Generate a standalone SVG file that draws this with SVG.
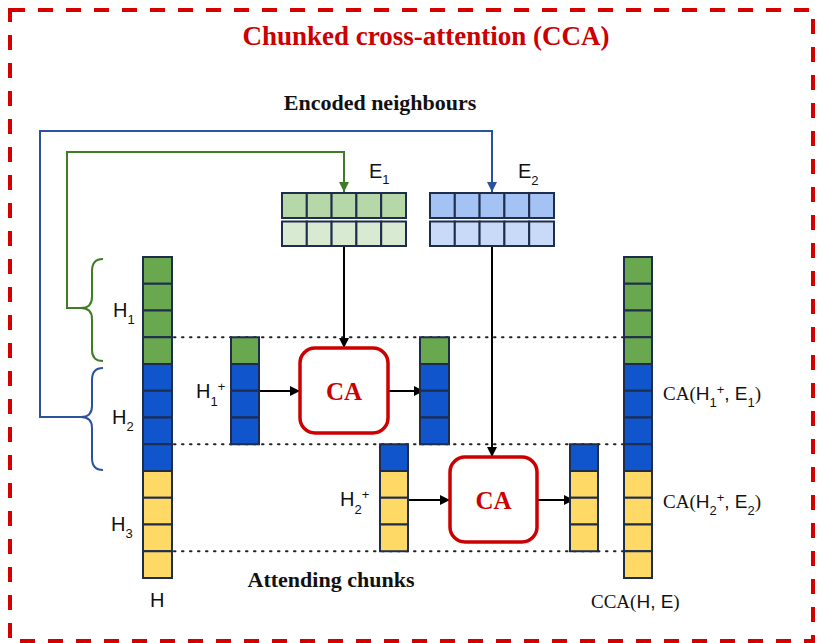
<svg xmlns="http://www.w3.org/2000/svg" width="821" height="643" viewBox="0 0 821 643">
<defs>
<style>
.cell{stroke:#1e2d4c;stroke-width:2}
.g{fill:#6aa84f}.b{fill:#1155cc}.y{fill:#ffd966}
.eg1{fill:#b6d7a8}.eg2{fill:#d9ead3}.eb1{fill:#a4c2f4}.eb2{fill:#c9daf8}
.dot{stroke:#222;stroke-width:2;stroke-dasharray:1.5 6.5;stroke-linecap:round;fill:none}
.ca{fill:#fff;stroke:#cc0000;stroke-width:3.5}
.cat{font-family:"Liberation Serif",serif;font-weight:bold;font-size:25px;fill:#cc0000;text-anchor:middle}
.lab{font-family:"Liberation Sans",Arial,sans-serif;font-size:19px;fill:#111}
.big{font-size:20px}
.ser{font-family:"Liberation Serif",serif}
.sm{font-size:13px}
.head{font-family:"Liberation Serif",serif;font-weight:bold;font-size:22px;fill:#111}
.arr{stroke:#000;stroke-width:2;fill:none}
</style>
<marker id="ah" viewBox="0 0 10 10" refX="10" refY="5" markerWidth="12" markerHeight="10" markerUnits="userSpaceOnUse" orient="auto"><path d="M0,0 L10,5 L0,10 z" fill="#000"/></marker>
<marker id="ahg" viewBox="0 0 10 10" refX="10" refY="5" markerWidth="12" markerHeight="10" markerUnits="userSpaceOnUse" orient="auto"><path d="M0,0 L10,5 L0,10 z" fill="#3f7d24"/></marker>
<marker id="ahb" viewBox="0 0 10 10" refX="10" refY="5" markerWidth="12" markerHeight="10" markerUnits="userSpaceOnUse" orient="auto"><path d="M0,0 L10,5 L0,10 z" fill="#2b529c"/></marker>
</defs>
<rect width="821" height="643" fill="#fff"/>
<rect id="frame" x="10" y="10" width="803" height="631" fill="none" stroke="#d40000" stroke-width="4" stroke-dasharray="15 13"/>
<text x="426" y="45" text-anchor="middle" font-family="Liberation Serif,serif" font-weight="bold" font-size="27" fill="#cc0000">Chunked cross-attention (CCA)</text>
<text class="head" x="380" y="110" text-anchor="middle">Encoded neighbours</text>
<text class="head" x="331" y="587" text-anchor="middle">Attending chunks</text>

<g id="dotted">
<line class="dot" x1="174" y1="337.25" x2="624" y2="337.25"/>
<line class="dot" x1="174" y1="444.25" x2="624" y2="444.25"/>
<line class="dot" x1="174" y1="551.25" x2="624" y2="551.25"/>
</g>

<g id="connectors">
<path d="M103,259 Q92,259 92,271 L92,297 Q92,308 81,308 Q92,308 92,319 L92,350 Q92,361 103,361" fill="none" stroke="#3f7d24" stroke-width="2"/>
<path d="M103,368 Q92,368 92,380 L92,406 Q92,417 81,417 Q92,417 92,428 L92,458 Q92,470 103,470" fill="none" stroke="#2b529c" stroke-width="2"/>
<path d="M81,308 L67,308 L67,152 L344,152 L344,192" fill="none" stroke="#3f7d24" stroke-width="2" marker-end="url(#ahg)"/>
<path d="M81,417 L40,417 L40,131 L492,131 L492,192" fill="none" stroke="#2b529c" stroke-width="2" marker-end="url(#ahb)"/>
<line class="arr" x1="344" y1="246" x2="344" y2="348" marker-end="url(#ah)"/>
<line class="arr" x1="492" y1="246" x2="492" y2="457" marker-end="url(#ah)"/>
<line class="arr" x1="259" y1="391" x2="300" y2="391" marker-end="url(#ah)"/>
<line class="arr" x1="388" y1="391" x2="424" y2="391" marker-end="url(#ah)"/>
<line class="arr" x1="408" y1="500" x2="450" y2="500" marker-end="url(#ah)"/>
<line class="arr" x1="537" y1="500" x2="574" y2="500" marker-end="url(#ah)"/>
</g>

<g id="E1">
<rect class="cell eg1" x="282" y="193" width="24.8" height="25"/>
<rect class="cell eg1" x="306.8" y="193" width="24.8" height="25"/>
<rect class="cell eg1" x="331.6" y="193" width="24.8" height="25"/>
<rect class="cell eg1" x="356.4" y="193" width="24.8" height="25"/>
<rect class="cell eg1" x="381.2" y="193" width="24.8" height="25"/>
<rect class="cell eg2" x="282" y="221.5" width="24.8" height="24.5"/>
<rect class="cell eg2" x="306.8" y="221.5" width="24.8" height="24.5"/>
<rect class="cell eg2" x="331.6" y="221.5" width="24.8" height="24.5"/>
<rect class="cell eg2" x="356.4" y="221.5" width="24.8" height="24.5"/>
<rect class="cell eg2" x="381.2" y="221.5" width="24.8" height="24.5"/>
<text class="lab big" x="369" y="178">E<tspan class="sm" dy="6">1</tspan></text>
</g>

<g id="E2">
<rect class="cell eb1" x="430" y="193" width="24.8" height="25"/>
<rect class="cell eb1" x="454.8" y="193" width="24.8" height="25"/>
<rect class="cell eb1" x="479.6" y="193" width="24.8" height="25"/>
<rect class="cell eb1" x="504.4" y="193" width="24.8" height="25"/>
<rect class="cell eb1" x="529.2" y="193" width="24.8" height="25"/>
<rect class="cell eb2" x="430" y="221.5" width="24.8" height="24.5"/>
<rect class="cell eb2" x="454.8" y="221.5" width="24.8" height="24.5"/>
<rect class="cell eb2" x="479.6" y="221.5" width="24.8" height="24.5"/>
<rect class="cell eb2" x="504.4" y="221.5" width="24.8" height="24.5"/>
<rect class="cell eb2" x="529.2" y="221.5" width="24.8" height="24.5"/>
<text class="lab big" x="518" y="178">E<tspan class="sm" dy="7">2</tspan></text>
</g>

<g id="H">
<rect class="cell g" x="143" y="257" width="29" height="26.75"/>
<rect class="cell g" x="143" y="283.75" width="29" height="26.75"/>
<rect class="cell g" x="143" y="310.5" width="29" height="26.75"/>
<rect class="cell g" x="143" y="337.25" width="29" height="26.75"/>
<rect class="cell b" x="143" y="364" width="29" height="26.75"/>
<rect class="cell b" x="143" y="390.75" width="29" height="26.75"/>
<rect class="cell b" x="143" y="417.5" width="29" height="26.75"/>
<rect class="cell b" x="143" y="444.25" width="29" height="26.75"/>
<rect class="cell y" x="143" y="471" width="29" height="26.75"/>
<rect class="cell y" x="143" y="497.75" width="29" height="26.75"/>
<rect class="cell y" x="143" y="524.5" width="29" height="26.75"/>
<rect class="cell y" x="143" y="551.25" width="29" height="26.75"/>
<text class="lab big" x="113" y="317">H<tspan class="sm" dy="7">1</tspan></text>
<text class="lab big" x="112" y="424">H<tspan class="sm" dy="7">2</tspan></text>
<text class="lab big" x="111" y="531">H<tspan class="sm" dy="7">3</tspan></text>
<text class="lab big" x="150" y="607">H</text>
</g>

<g id="H1plus">
<rect class="cell g" x="231" y="337.25" width="28" height="26.75"/>
<rect class="cell b" x="231" y="364" width="28" height="26.75"/>
<rect class="cell b" x="231" y="390.75" width="28" height="26.75"/>
<rect class="cell b" x="231" y="417.5" width="28" height="26.75"/>
<text class="lab big" x="196" y="398">H<tspan class="sm" dy="8">1</tspan><tspan class="sm" dy="-15">+</tspan></text>
</g>

<g id="CA1">
<rect class="ca" x="300" y="348" width="88" height="85" rx="15"/>
<text class="cat" x="344" y="400">CA</text>
</g>

<g id="out1">
<rect class="cell g" x="420" y="337.25" width="29" height="26.75"/>
<rect class="cell b" x="420" y="364" width="29" height="26.75"/>
<rect class="cell b" x="420" y="390.75" width="29" height="26.75"/>
<rect class="cell b" x="420" y="417.5" width="29" height="26.75"/>
</g>

<g id="H2plus">
<rect class="cell b" x="380" y="444.25" width="28" height="26.75"/>
<rect class="cell y" x="380" y="471" width="28" height="26.75"/>
<rect class="cell y" x="380" y="497.75" width="28" height="26.75"/>
<rect class="cell y" x="380" y="524.5" width="28" height="26.75"/>
<text class="lab big" x="340" y="506">H<tspan class="sm" dy="8">2</tspan><tspan class="sm" dy="-15">+</tspan></text>
</g>

<g id="CA2">
<rect class="ca" x="450" y="457" width="87" height="85" rx="15"/>
<text class="cat" x="493.5" y="509">CA</text>
</g>

<g id="out2">
<rect class="cell b" x="570" y="444.25" width="28" height="26.75"/>
<rect class="cell y" x="570" y="471" width="28" height="26.75"/>
<rect class="cell y" x="570" y="497.75" width="28" height="26.75"/>
<rect class="cell y" x="570" y="524.5" width="28" height="26.75"/>
</g>

<g id="CCA">
<rect class="cell g" x="624" y="257" width="28" height="26.75"/>
<rect class="cell g" x="624" y="283.75" width="28" height="26.75"/>
<rect class="cell g" x="624" y="310.5" width="28" height="26.75"/>
<rect class="cell g" x="624" y="337.25" width="28" height="26.75"/>
<rect class="cell b" x="624" y="364" width="28" height="26.75"/>
<rect class="cell b" x="624" y="390.75" width="28" height="26.75"/>
<rect class="cell b" x="624" y="417.5" width="28" height="26.75"/>
<rect class="cell b" x="624" y="444.25" width="28" height="26.75"/>
<rect class="cell y" x="624" y="471" width="28" height="26.75"/>
<rect class="cell y" x="624" y="497.75" width="28" height="26.75"/>
<rect class="cell y" x="624" y="524.5" width="28" height="26.75"/>
<rect class="cell y" x="624" y="551.25" width="28" height="26.75"/>
<text class="lab" x="663" y="400"><tspan class="ser">CA(</tspan>H<tspan class="sm" dy="7">1</tspan><tspan class="sm" dy="-13">+</tspan><tspan dy="6">, E</tspan><tspan class="sm" dy="7">1</tspan><tspan class="ser" dy="-7">)</tspan></text>
<text class="lab" x="663" y="508"><tspan class="ser">CA(</tspan>H<tspan class="sm" dy="7">2</tspan><tspan class="sm" dy="-13">+</tspan><tspan dy="6">, E</tspan><tspan class="sm" dy="7">2</tspan><tspan class="ser" dy="-7">)</tspan></text>
<text class="lab" x="591" y="608"><tspan class="ser">CCA(</tspan>H, E<tspan class="ser">)</tspan></text>
</g>
</svg>
